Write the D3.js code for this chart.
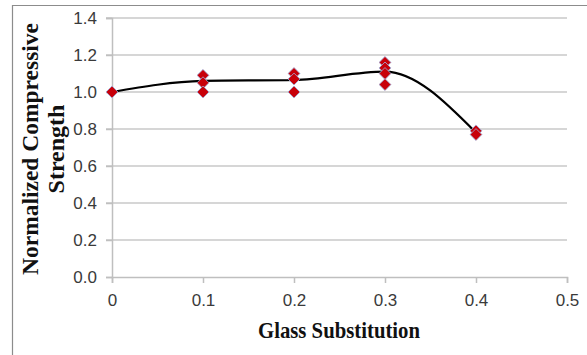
<!DOCTYPE html>
<html>
<head>
<meta charset="utf-8">
<style>
  body { margin: 0; background: #fff; }
  svg { display: block; }
</style>
</head>
<body>
<div id="container"></div>
<script src="https://d3js.org/d3.v7.js"></script>
<script>
// Data
const xTicks = [0, 0.1, 0.2, 0.3, 0.4, 0.5];
const yTicks = [0, 0.2, 0.4, 0.6, 0.8, 1.0, 1.2, 1.4];

// individual test results (glass substitution, normalized strength)
const pointX = [0, 0.1, 0.1, 0.1, 0.2, 0.2, 0.2, 0.3, 0.3, 0.3, 0.3, 0.4, 0.4];
const pointY = [1.0, 1.09, 1.05, 1.0, 1.10, 1.07, 1.0, 1.16, 1.13, 1.10, 1.04, 0.79, 0.77];

// smoothed trend line through the averages
const lineX = [0, 0.1, 0.2, 0.3, 0.4];
const lineY = [1.0, 1.06, 1.065, 1.11, 0.78];

const width = 587;
const height = 355;
const marginLeft = 112;
const marginRight = 20;
const marginTop = 18;
const marginBottom = 78;

const x = d3.scaleLinear()
    .domain([0, 0.5])
    .range([marginLeft, width - marginRight]);

const y = d3.scaleLinear()
    .domain([0, 1.4])
    .range([height - marginBottom, marginTop]);

const svg = d3.create("svg")
    .attr("width", width)
    .attr("height", height);

// outer frame (left and top edges)
svg.append("path")
    .attr("d", "M12.5,355V5.5H587")
    .attr("fill", "none")
    .attr("stroke", "#8c8c8c")
    .attr("stroke-width", 1.2);

// horizontal gridlines
svg.append("g")
    .selectAll("line")
    .data(yTicks.slice(1))
    .join("line")
      .attr("x1", x(0) - 6)
      .attr("x2", x(0.5))
      .attr("y1", d => y(d))
      .attr("y2", d => y(d))
      .attr("stroke", "#c9c9c9")
      .attr("stroke-width", 1.5);

// y axis
svg.append("g")
    .attr("transform", `translate(${x(0)},0)`)
    .call(d3.axisLeft(y).tickValues(yTicks).tickFormat(d3.format(".1f")).tickSize(6).tickPadding(9))
    .call(g => g.select(".domain").attr("stroke", "#bfbfbf").attr("stroke-width", 1.5))
    .call(g => g.selectAll(".tick line").attr("stroke", "#bfbfbf").attr("stroke-width", 1.5))
    .call(g => g.selectAll(".tick text")
        .attr("fill", "#3a3a3a")
        .attr("font-family", "'Liberation Sans', Arial, sans-serif")
        .attr("font-size", 17));

// x axis
svg.append("g")
    .attr("transform", `translate(0,${y(0)})`)
    .call(d3.axisBottom(x).tickValues(xTicks).tickFormat(d => d === 0 ? "0" : d3.format(".1f")(d)).tickSize(6).tickPadding(11))
    .call(g => g.select(".domain").attr("stroke", "#bfbfbf").attr("stroke-width", 1.5))
    .call(g => g.selectAll(".tick line").attr("stroke", "#bfbfbf").attr("stroke-width", 1.5))
    .call(g => g.selectAll(".tick text")
        .attr("fill", "#3a3a3a")
        .attr("font-family", "'Liberation Sans', Arial, sans-serif")
        .attr("font-size", 17));

// smoothed line
const line = d3.line()
    .x((d, i) => x(lineX[i]))
    .y(d => y(d))
    .curve(d3.curveMonotoneX);

svg.append("path")
    .attr("fill", "none")
    .attr("stroke", "#000")
    .attr("stroke-width", 2.2)
    .attr("d", line(lineY));

// diamond markers
const diamond = d3.symbol().type(d3.symbolDiamond2).size(90);
svg.append("g")
    .selectAll("path")
    .data(pointY)
    .join("path")
      .attr("transform", (d, i) => `translate(${x(pointX[i])},${y(d)})`)
      .attr("d", diamond)
      .attr("fill", "#c8000a")
      .attr("stroke", "#9db3e0")
      .attr("stroke-width", 0.8);

// axis titles
svg.append("text")
    .attr("x", 339)
    .attr("y", 338)
    .attr("text-anchor", "middle")
    .attr("font-family", "'Liberation Serif', 'Times New Roman', serif")
    .attr("font-weight", "bold")
    .attr("font-size", 24)
    .attr("textLength", 162)
    .attr("lengthAdjust", "spacingAndGlyphs")
    .attr("fill", "#111")
    .text("Glass Substitution");

const yTitle = svg.append("text")
    .attr("transform", "translate(0,149) rotate(-90)")
    .attr("text-anchor", "middle")
    .attr("font-family", "'Liberation Serif', 'Times New Roman', serif")
    .attr("font-weight", "bold")
    .attr("font-size", 24)
    .attr("fill", "#111");

yTitle.append("tspan")
    .attr("x", 0)
    .attr("y", 38)
    .attr("textLength", 252)
    .attr("lengthAdjust", "spacingAndGlyphs")
    .text("Normalized Compressive");

yTitle.append("tspan")
    .attr("x", 0)
    .attr("y", 64)
    .text("Strength");

container.append(svg.node());
</script>
</body>
</html>
